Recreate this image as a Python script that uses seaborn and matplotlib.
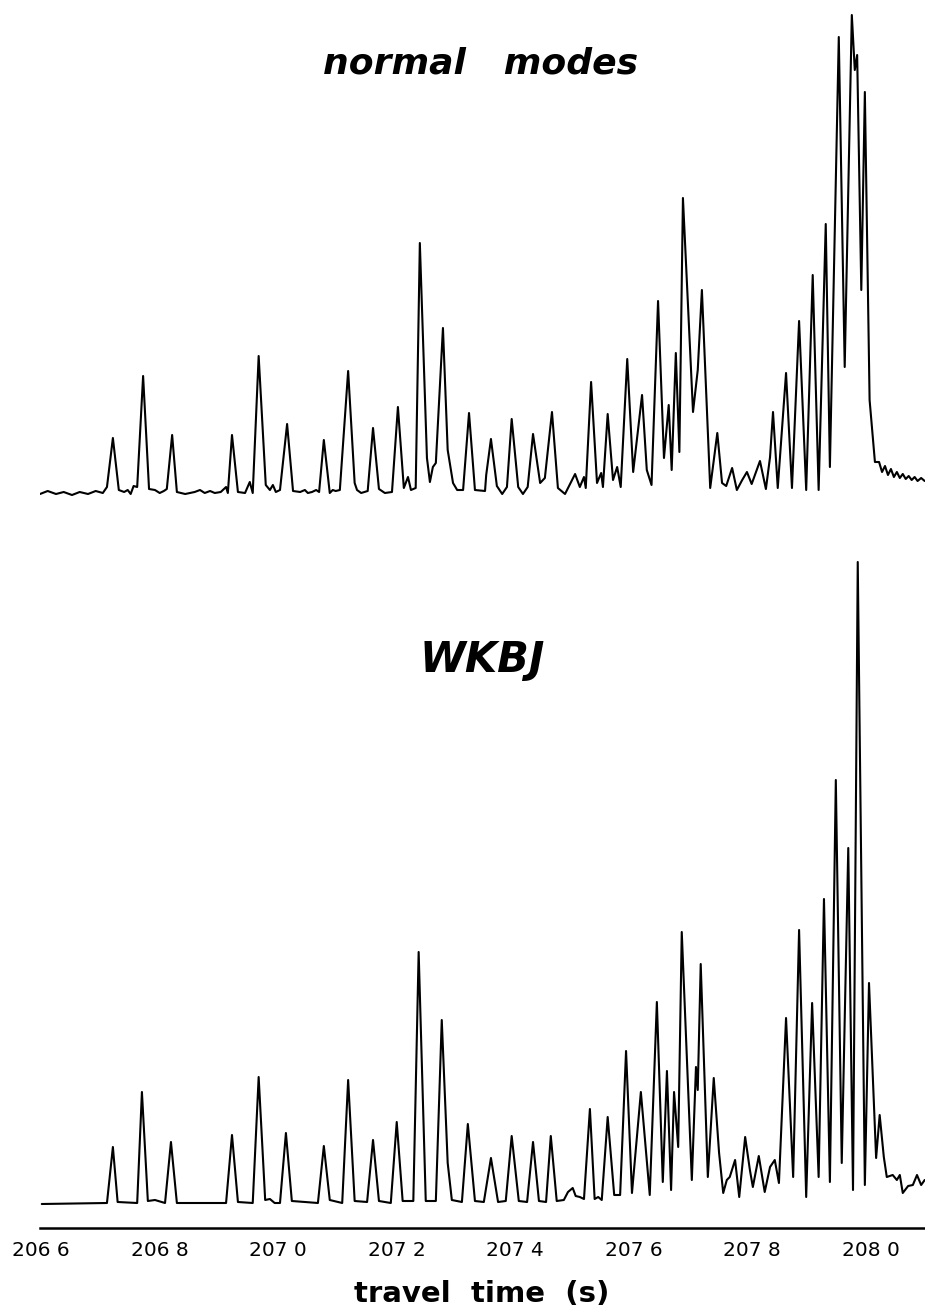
import numpy as np
import pandas as pd
import matplotlib
matplotlib.use("Agg")
import matplotlib.pyplot as plt
import seaborn as sns

# ---------------- data ----------------
# travel time (s) of the trace vertices, normal-mode synthetic
nm_time = [206.598, 206.611, 206.625, 206.638, 206.652, 206.665, 206.679, 206.692, 206.704, 206.711,
           206.721, 206.731, 206.740, 206.746, 206.751, 206.756, 206.762, 206.772, 206.782, 206.792,
           206.800, 206.807, 206.812, 206.821, 206.829, 206.843, 206.859, 206.868, 206.876, 206.885,
           206.893, 206.903, 206.912, 206.915, 206.922, 206.932, 206.944, 206.952, 206.957, 206.967,
           206.979, 206.986, 206.991, 206.996, 207.003, 207.015, 207.025, 207.037, 207.045, 207.050,
           207.057, 207.064, 207.069, 207.077, 207.087, 207.092, 207.097, 207.104, 207.118, 207.129,
           207.133, 207.140, 207.151, 207.160, 207.170, 207.180, 207.192, 207.202, 207.212, 207.219,
           207.224, 207.232, 207.239, 207.251, 207.256, 207.261, 207.266, 207.278, 207.286, 207.295,
           207.302, 207.312, 207.322, 207.332, 207.349, 207.351, 207.359, 207.369, 207.378, 207.386,
           207.394, 207.405, 207.413, 207.421, 207.430, 207.442, 207.450, 207.462, 207.472, 207.484,
           207.501, 207.509, 207.516, 207.519, 207.528, 207.538, 207.545, 207.548, 207.556, 207.565,
           207.572, 207.578, 207.589, 207.599, 207.614, 207.622, 207.630, 207.641, 207.651, 207.659,
           207.664, 207.671, 207.677, 207.683, 207.700, 207.708, 207.715, 207.729, 207.741, 207.749,
           207.756, 207.766, 207.774, 207.783, 207.791, 207.799, 207.813, 207.823, 207.830, 207.835,
           207.843, 207.848, 207.857, 207.867, 207.879, 207.891, 207.902, 207.912, 207.924, 207.931,
           207.946, 207.956, 207.968, 207.973, 207.977, 207.984, 207.990, 207.998, 208.007, 208.014,
           208.019, 208.024, 208.029, 208.034, 208.039, 208.044, 208.049, 208.054, 208.059, 208.064,
           208.069, 208.074, 208.079, 208.085, 208.091]
nm_amp = [-0.01, 0.02, -0.01, 0.01, -0.02, 0.01, -0.01, 0.02, 0.00, 0.06,
          0.55, 0.03, 0.01, 0.03, -0.01, 0.07, 0.06, 1.17, 0.04, 0.03,
          0.00, 0.02, 0.04, 0.58, 0.01, -0.01, 0.01, 0.03, 0.00, 0.02,
          0.00, 0.01, 0.06, 0.00, 0.58, 0.01, 0.00, 0.11, 0.00, 1.37,
          0.08, 0.03, 0.08, 0.01, 0.03, 0.69, 0.02, 0.01, 0.03, 0.00,
          0.01, 0.03, 0.01, 0.53, 0.00, 0.03, 0.02, 0.03, 1.22, 0.10,
          0.03, 0.00, 0.02, 0.65, 0.04, 0.00, 0.01, 0.86, 0.05, 0.16,
          0.03, 0.05, 2.50, 0.35, 0.11, 0.26, 0.30, 1.65, 0.43, 0.10,
          0.03, 0.03, 0.80, 0.03, 0.02, 0.18, 0.54, 0.07, -0.01, 0.06,
          0.74, 0.06, -0.01, 0.06, 0.59, 0.10, 0.15, 0.81, 0.05, -0.01,
          0.19, 0.06, 0.16, 0.05, 1.11, 0.10, 0.20, 0.06, 0.79, 0.13,
          0.26, 0.06, 1.34, 0.21, 0.98, 0.23, 0.08, 1.92, 0.35, 0.88,
          0.23, 1.40, 0.41, 2.95, 0.81, 1.23, 2.03, 0.05, 0.60, 0.10,
          0.07, 0.25, 0.03, 0.13, 0.21, 0.09, 0.32, 0.04, 0.36, 0.81,
          0.05, 0.46, 1.20, 0.05, 1.72, 0.03, 2.18, 0.03, 2.69, 0.26,
          4.56, 1.26, 4.78, 4.23, 4.38, 2.03, 4.01, 0.93, 0.31, 0.31,
          0.21, 0.27, 0.18, 0.24, 0.16, 0.21, 0.15, 0.19, 0.14, 0.17,
          0.13, 0.16, 0.12, 0.15, 0.12]

# WKBJ synthetic
wkbj_time = [206.601, 206.711, 206.721, 206.729, 206.762, 206.770, 206.780, 206.792, 206.809, 206.819,
             206.829, 206.912, 206.922, 206.932, 206.957, 206.967, 206.978, 206.986, 206.994, 207.003,
             207.013, 207.023, 207.067, 207.077, 207.087, 207.108, 207.118, 207.129, 207.150, 207.160,
             207.170, 207.190, 207.200, 207.210, 207.228, 207.237, 207.249, 207.266, 207.276, 207.286,
             207.293, 207.310, 207.320, 207.332, 207.347, 207.359, 207.371, 207.384, 207.394, 207.406,
             207.420, 207.430, 207.440, 207.452, 207.460, 207.470, 207.482, 207.489, 207.497, 207.502,
             207.509, 207.516, 207.526, 207.534, 207.540, 207.546, 207.556, 207.567, 207.577, 207.587,
             207.597, 207.612, 207.627, 207.639, 207.649, 207.656, 207.663, 207.668, 207.675, 207.681,
             207.698, 207.705, 207.708, 207.713, 207.725, 207.735, 207.744, 207.751, 207.757, 207.762,
             207.771, 207.778, 207.788, 207.796, 207.801, 207.811, 207.821, 207.830, 207.838, 207.845,
             207.857, 207.869, 207.879, 207.891, 207.901, 207.912, 207.921, 207.931, 207.941, 207.951,
             207.962, 207.970, 207.978, 207.990, 207.997, 208.009, 208.015, 208.022, 208.027, 208.037,
             208.044, 208.049, 208.054, 208.063, 208.071, 208.078, 208.085, 208.091]
wkbj_amp = [-0.03, -0.02, 0.54, -0.01, -0.02, 1.09, 0.00, 0.01, -0.02, 0.59,
            -0.02, -0.02, 0.66, -0.01, -0.02, 1.24, 0.01, 0.02, -0.02, -0.02,
            0.68, 0.00, -0.02, 0.55, 0.01, -0.02, 1.21, 0.00, -0.01, 0.61,
            0.00, -0.02, 0.79, 0.00, 0.00, 2.49, 0.00, 0.00, 1.81, 0.38,
            0.01, -0.01, 0.77, 0.00, -0.01, 0.43, -0.01, 0.00, 0.65, 0.00,
            -0.01, 0.59, 0.00, -0.01, 0.65, 0.00, 0.01, 0.09, 0.13, 0.05,
            0.04, 0.02, 0.92, 0.02, 0.04, 0.01, 0.84, 0.06, 0.06, 1.50,
            0.08, 1.09, 0.06, 1.99, 0.19, 1.30, 0.11, 1.09, 0.54, 2.69,
            0.21, 1.34, 1.11, 2.37, 0.24, 1.23, 0.48, 0.08, 0.21, 0.24,
            0.41, 0.04, 0.64, 0.31, 0.14, 0.45, 0.09, 0.34, 0.41, 0.18,
            1.83, 0.24, 2.71, 0.04, 1.98, 0.24, 3.02, 0.19, 4.21, 0.38,
            3.53, 0.11, 6.39, 0.16, 2.18, 0.43, 0.86, 0.44, 0.24, 0.26,
            0.21, 0.26, 0.08, 0.15, 0.16, 0.26, 0.16, 0.21]

tick_values = [206.6, 206.8, 207.0, 207.2, 207.4, 207.6, 207.8, 208.0]
tick_labels = ["206 6", "206 8", "207 0", "207 2", "207 4", "207 6", "207 8", "208 0"]
title_top = "normal   modes"
title_bottom = "WKBJ"
x_label = "travel  time  (s)"

nm_df = pd.DataFrame({"time": nm_time, "amp": nm_amp})
wkbj_df = pd.DataFrame({"time": wkbj_time, "amp": wkbj_amp})

# ---------------- figure ----------------
sns.set_style("white")
plt.rcParams["font.family"] = ["DejaVu Sans"]
plt.rcParams["text.color"] = "black"
plt.rcParams["axes.labelcolor"] = "black"
plt.rcParams["xtick.color"] = "black"
plt.rcParams["xtick.labelcolor"] = "black"

W, H = 925, 1309
fig = plt.figure(figsize=(W / 100, H / 100), dpi=100)
fig.patch.set_facecolor("white")

left = 40 / W
xlim = (206.598, 208.0915)

ax_top = fig.add_axes([left, 1 - 510 / H, 1 - left, 510 / H])
ax_bot = fig.add_axes([left, 1 - 1228 / H, 1 - left, 698 / H])

sns.lineplot(data=nm_df, x="time", y="amp", ax=ax_top, color="black",
             linewidth=1.5, sort=False, estimator=None)
sns.lineplot(data=wkbj_df, x="time", y="amp", ax=ax_bot, color="black",
             linewidth=1.5, sort=False, estimator=None)

ax_top.set_xlim(*xlim)
ax_top.set_ylim(-0.17, 4.93)
ax_top.axis("off")

ax_bot.set_xlim(*xlim)
ax_bot.set_ylim(-0.27, 6.71)
for s in ["top", "left", "right"]:
    ax_bot.spines[s].set_visible(False)
ax_bot.spines["bottom"].set_linewidth(1.8)
ax_bot.spines["bottom"].set_color("black")
ax_bot.set_yticks([])
ax_bot.set_ylabel("")
ax_bot.set_xticks(tick_values)
ax_bot.set_xticklabels(tick_labels, fontsize=14.5, color="black")
ax_bot.tick_params(axis="x", direction="in", length=6, width=1.3, pad=9, colors="black")
ax_bot.set_xlabel(x_label, fontsize=21, fontweight="bold", color="black")
ax_bot.xaxis.set_label_coords(0.4994, -0.074)
ax_top.set_xlabel("")

fig.text(481 / W, 1 - 73 / H, title_top, ha="center", va="baseline",
         fontsize=26, fontstyle="italic", fontweight="bold", color="black")
fig.text(482 / W, 1 - 672 / H, title_bottom, ha="center", va="baseline",
         fontsize=30, fontstyle="italic", fontweight="bold", color="black")

fig.savefig("out.png", dpi=100, facecolor="white")
